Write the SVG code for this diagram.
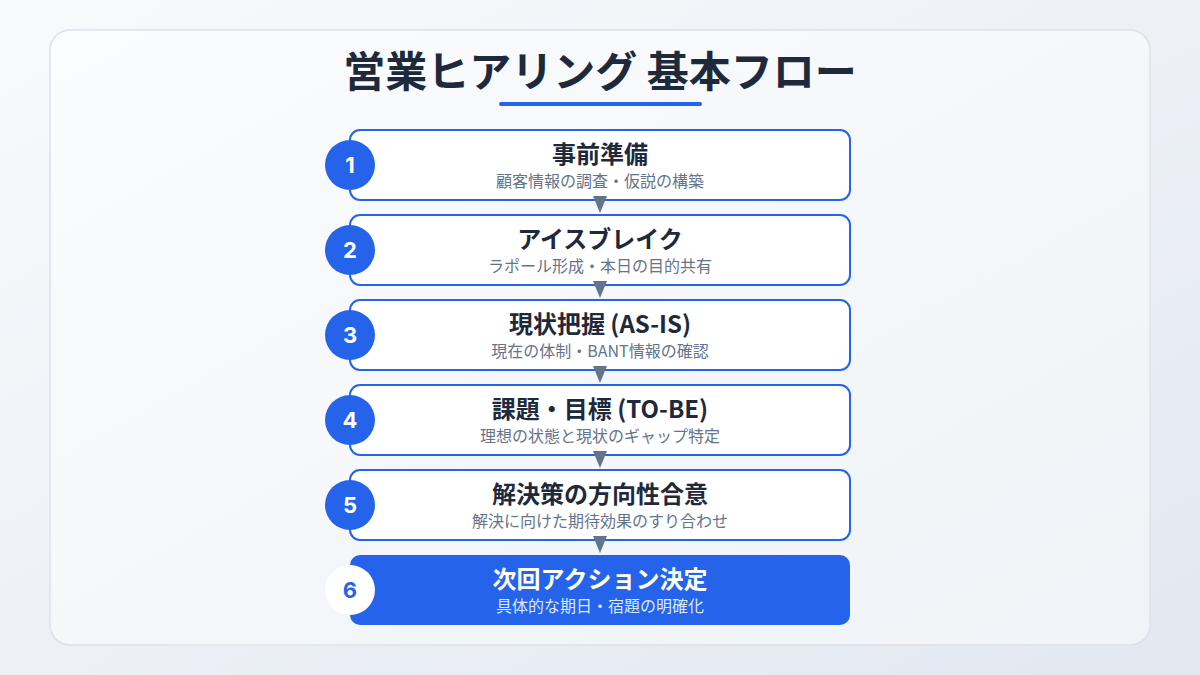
<svg xmlns="http://www.w3.org/2000/svg" width="1200" height="675" viewBox="0 0 1200 675">
<defs>
<linearGradient id="bg" x1="0" y1="0" x2="1" y2="1">
<stop offset="0" stop-color="#f8fafc"/>
<stop offset="1" stop-color="#e2e8f0"/>
</linearGradient>
</defs>
<style>
text{font-family:"Noto Sans CJK JP","Noto Sans",sans-serif;text-anchor:middle}
.box{fill:#ffffff;stroke:#2563eb;stroke-width:2}
.boxA{fill:#2563eb}
.circ{fill:#2563eb}
.circA{fill:#ffffff}
.num{font-family:"Inter","Noto Sans",sans-serif;font-size:22px;font-weight:700;fill:#ffffff}
.numA{font-family:"Inter","Noto Sans",sans-serif;font-size:22px;font-weight:700;fill:#2563eb}
.t{font-size:24px;font-weight:700;fill:#1e293b}
.tA{font-size:24px;font-weight:700;fill:#ffffff}
.s{font-size:16px;fill:#64748b}
.sA{font-size:16px;fill:#dbeafe}
.tri{fill:#64748b}
</style>
<rect width="1200" height="675" fill="url(#bg)"/>
<rect x="50" y="30" width="1100" height="615" rx="20" fill="#ffffff" fill-opacity="0.45" stroke="#dbe2ea" stroke-width="1.5"/>
<g id="title">
<text x="600" y="87" style="font-size:42px;font-weight:700;fill:#1e293b">営業ヒアリング 基本フロー</text>
<rect x="499" y="102" width="203" height="4" rx="2" fill="#2563eb"/>
</g>
<g id="node1">
<rect class="box" x="350" y="130" width="500" height="70" rx="10"/>
<circle class="circ" cx="350" cy="165" r="25"/>
<text class="num" x="350" y="173">1</text>
<text class="t" x="600" y="163">事前準備</text>
<text class="s" x="600" y="187">顧客情報の調査・仮説の構築</text>
</g>
<g id="node2">
<rect class="box" x="350" y="215" width="500" height="70" rx="10"/>
<circle class="circ" cx="350" cy="250" r="25"/>
<text class="num" x="350" y="258">2</text>
<text class="t" x="600" y="248">アイスブレイク</text>
<text class="s" x="600" y="272">ラポール形成・本日の目的共有</text>
</g>
<g id="node3">
<rect class="box" x="350" y="300" width="500" height="70" rx="10"/>
<circle class="circ" cx="350" cy="335" r="25"/>
<text class="num" x="350" y="343">3</text>
<text class="t" x="600" y="333">現状把握 (AS-IS)</text>
<text class="s" x="600" y="357">現在の体制・BANT情報の確認</text>
</g>
<g id="node4">
<rect class="box" x="350" y="385" width="500" height="70" rx="10"/>
<circle class="circ" cx="350" cy="420" r="25"/>
<text class="num" x="350" y="428">4</text>
<text class="t" x="600" y="418">課題・目標 (TO-BE)</text>
<text class="s" x="600" y="442">理想の状態と現状のギャップ特定</text>
</g>
<g id="node5">
<rect class="box" x="350" y="470" width="500" height="70" rx="10"/>
<circle class="circ" cx="350" cy="505" r="25"/>
<text class="num" x="350" y="513">5</text>
<text class="t" x="600" y="503">解決策の方向性合意</text>
<text class="s" x="600" y="527">解決に向けた期待効果のすり合わせ</text>
</g>
<g id="node6">
<rect class="boxA" x="350" y="555" width="500" height="70" rx="10"/>
<circle class="circA" cx="350" cy="590" r="25"/>
<text class="numA" x="350" y="598">6</text>
<text class="tA" x="600" y="588">次回アクション決定</text>
<text class="sA" x="600" y="612">具体的な期日・宿題の明確化</text>
</g>
<g id="connectors">
<polygon class="tri" points="593,196 607,196 600,213"/>
<polygon class="tri" points="593,281 607,281 600,298"/>
<polygon class="tri" points="593,366 607,366 600,383"/>
<polygon class="tri" points="593,451 607,451 600,468"/>
<polygon class="tri" points="593,536 607,536 600,553"/>
</g>
</svg>
